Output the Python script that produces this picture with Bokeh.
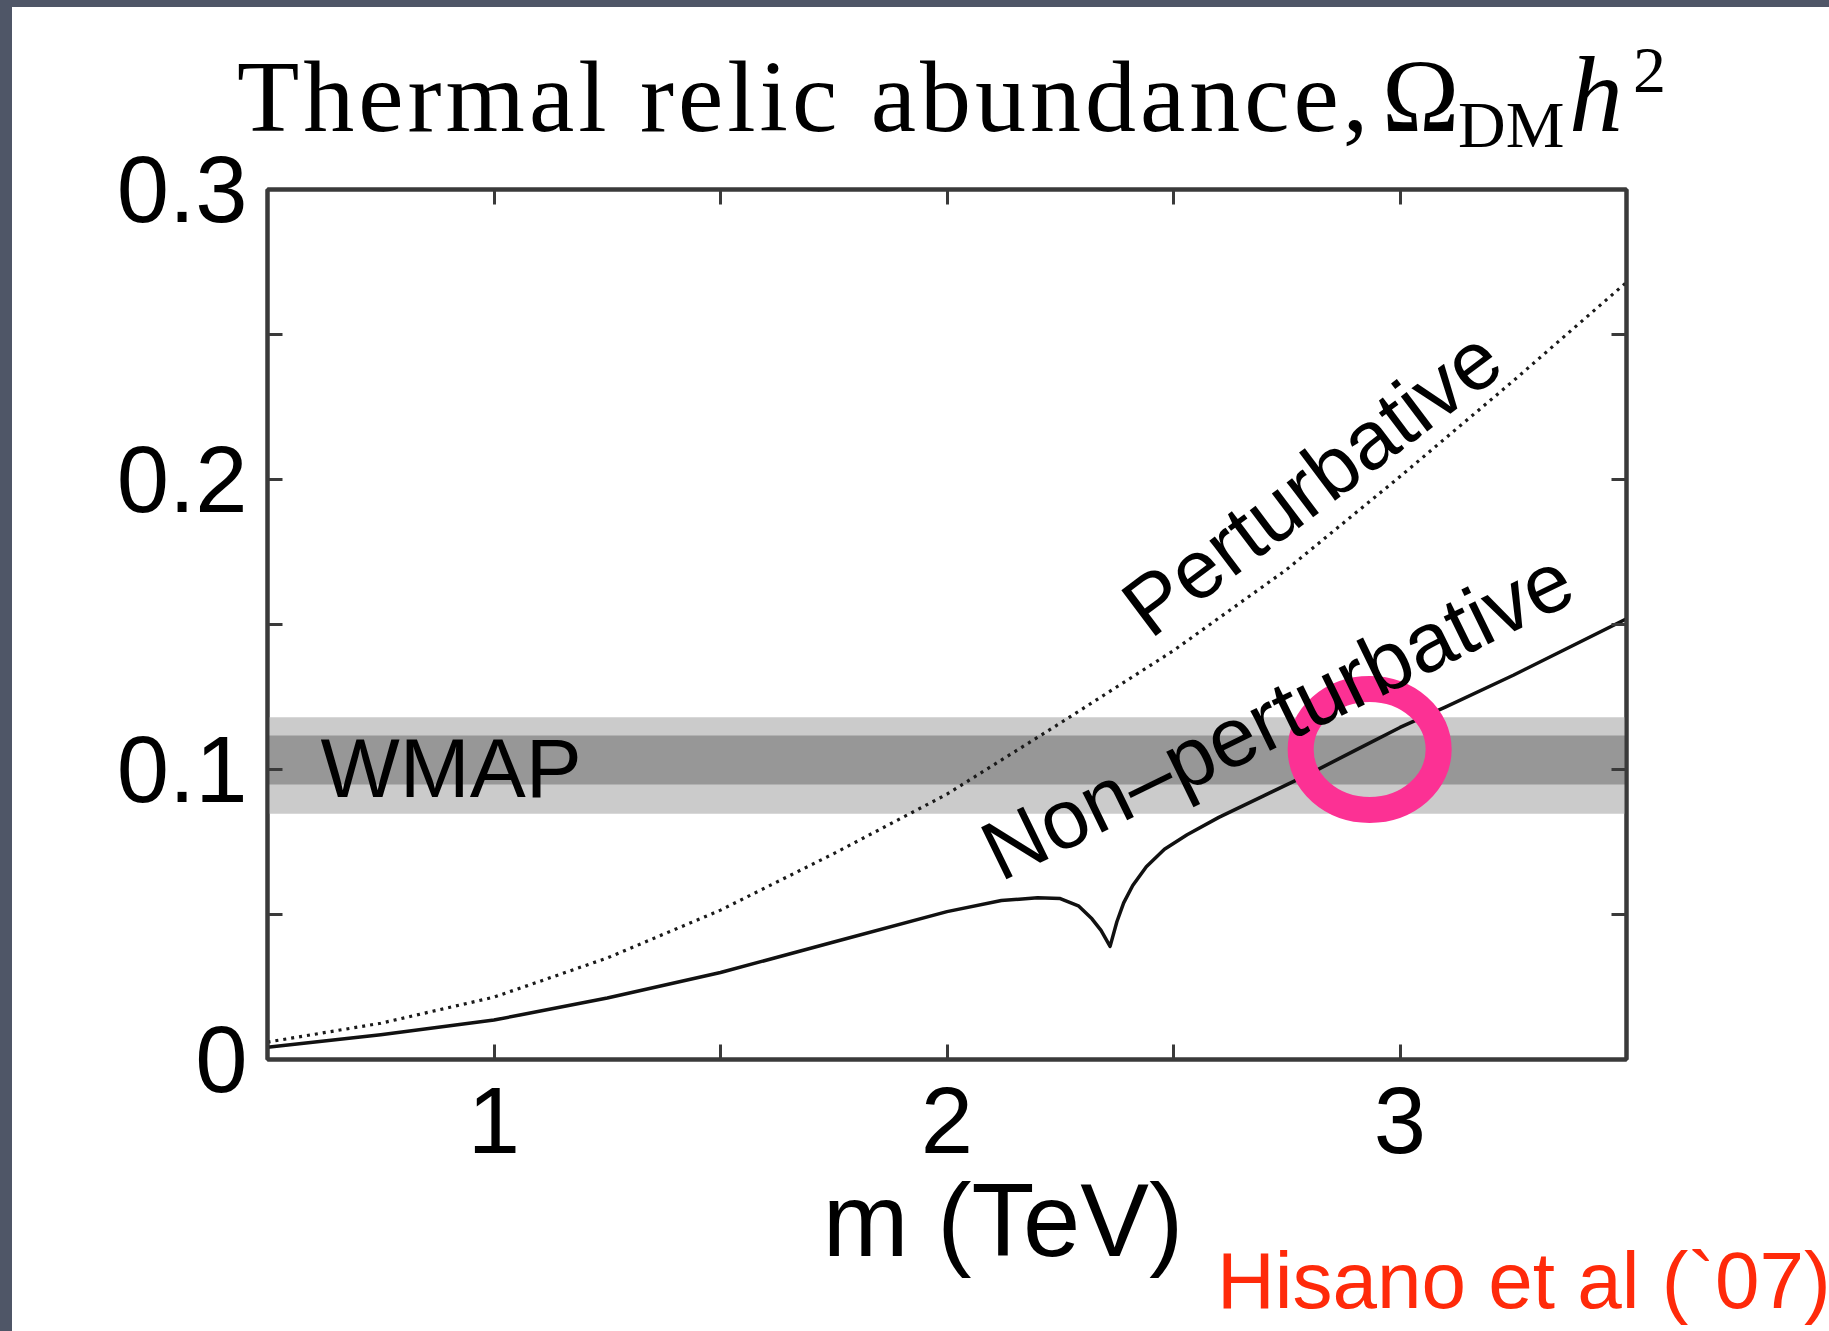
import math
from bokeh.plotting import figure
from bokeh.models import Range1d, FixedTicker, LinearAxis, Label, Div, Spacer
from bokeh.layouts import column, row
from bokeh.embed import file_html
from bokeh.resources import INLINE

# ---------------- data ----------------
mass_perturbative = [0.5, 0.75, 1.0, 1.25, 1.5, 1.75, 2.0, 2.25, 2.5, 2.75, 3.0, 3.25, 3.5]
omega_perturbative = [0.0060, 0.0125, 0.0215, 0.0350, 0.0515, 0.0710, 0.0915, 0.1160,
                      0.1410, 0.1690, 0.2010, 0.2340, 0.2680]

mass_nonpert = [0.5, 0.75, 1.0, 1.25, 1.5, 1.75, 2.0, 2.12, 2.2, 2.25, 2.29, 2.32, 2.34,
                2.36, 2.375, 2.39, 2.41, 2.44, 2.48, 2.53, 2.6, 2.7, 2.8, 2.9, 3.0, 3.1,
                3.25, 3.5]
omega_nonpert = [0.0042, 0.0085, 0.0136, 0.0212, 0.0300, 0.0405, 0.0510, 0.0548, 0.0558,
                 0.0555, 0.0530, 0.0485, 0.0445, 0.0390, 0.0475, 0.0540, 0.0600, 0.0665,
                 0.0725, 0.0775, 0.0835, 0.0910, 0.0985, 0.1065, 0.1145, 0.1215, 0.1325,
                 0.1520]

wmap_inner = [0.0948, 0.1117]   # dark band (bottom, top)
wmap_outer = [0.0847, 0.1180]   # light band (bottom, top)

x_range_lim = [0.5, 3.5]
y_range_lim = [0.0, 0.3]
x_ticks = [1, 2, 3]
x_tick_labels = ["1", "2", "3"]
x_minor_ticks = [1.5, 2.5]
y_ticks = [0, 0.1, 0.2, 0.3]
y_tick_labels = ["0", "0.1", "0.2", "0.3"]
y_minor_ticks = [0.05, 0.15, 0.25]

highlight_point = [2.933, 0.1069]   # the pink circle

title_main = "Thermal relic abundance,"
title_symbol = "\u03a9"
title_sub = "DM"
title_h = "h"
title_sup = "2"
x_label = "m (TeV)"
credit = "Hisano et al (`07)"
band_label = "WMAP"
label_pert = "Perturbative"
label_nonpert = "Non\u2013perturbative"

# ---------------- layout geometry (page pixels) ----------------
PAGE_W, PAGE_H = 1829, 1331
PAD_LEFT, PAD_TOP = 12, 7
FRAME_L, FRAME_R, FRAME_T, FRAME_B = 267, 1626, 189, 1059
MAIN_TOP, MAIN_BOTTOM = 135, 1186
FIG_W = PAGE_W - PAD_LEFT

SANS = "Liberation Sans"
SERIF = "Liberation Serif"
FRAME_COLOR = "#3a3a3a"
DARK = "#4f5667"
BASE_SHIFT = 0.35   # renderer draws 'alphabetic' label text this many em low
# baseline position inside a line-height:1 box, per font
BOX_BASELINE = {SERIF: 0.8375, SANS: 0.8465}
NO_MARGIN = (0, 0, 0, 0)


def fx(px):
    return x_range_lim[0] + (px - FRAME_L) / (FRAME_R - FRAME_L) * (x_range_lim[1] - x_range_lim[0])


def fy(py):
    return y_range_lim[0] + (FRAME_B - py) / (FRAME_B - FRAME_T) * (y_range_lim[1] - y_range_lim[0])


def span(text, x, baseline, font, size, origin_y, color="black", style="normal",
         center=False, spacing=0):
    top = baseline - BOX_BASELINE[font] * size - origin_y
    left = x - PAD_LEFT
    shift = "transform:translateX(-50%);" if center else ""
    return (f'<span style="position:absolute;left:{left:.1f}px;top:{top:.1f}px;{shift}'
            f"font-family:'{font}';font-size:{size}px;line-height:1;font-style:{style};"
            f'letter-spacing:{spacing}px;white-space:nowrap;color:{color};">{text}</span>')


def strip(spans, y0, y1):
    h = y1 - y0
    html = (f'<div style="position:relative;width:{FIG_W}px;height:{h}px;overflow:visible;'
            f'margin:0;padding:0;">' + "".join(spans) + "</div>")
    return Div(text=html, width=FIG_W, height=h, margin=NO_MARGIN,
               styles={"overflow": "visible", "position": "relative", "z-index": "5"})


# ---------------- title strip ----------------
top = strip([
    span(title_main, 237, 131, SERIF, 102, PAD_TOP, spacing=4),
    span(title_symbol, 1382, 131, SERIF, 104, PAD_TOP),
    span(title_sub, 1458, 147, SERIF, 66, PAD_TOP),
    span(title_h, 1569, 131, SERIF, 108, PAD_TOP, style="italic"),
    span(title_sup, 1633, 92, SERIF, 66, PAD_TOP),
], PAD_TOP, MAIN_TOP)

# ---------------- main plot ----------------
p = figure(width=FIG_W, height=MAIN_BOTTOM - MAIN_TOP, output_backend="svg",
           toolbar_location=None, x_range=Range1d(*x_range_lim), y_range=Range1d(*y_range_lim),
           x_axis_location=None, y_axis_location=None)
p.margin = NO_MARGIN
p.min_border_left = FRAME_L - PAD_LEFT
p.min_border_right = PAGE_W - FRAME_R
p.min_border_top = FRAME_T - MAIN_TOP
p.min_border_bottom = MAIN_BOTTOM - FRAME_B
p.background_fill_color = "white"
p.border_fill_color = None
p.outline_line_color = FRAME_COLOR
p.outline_line_width = 4
p.xgrid.visible = False
p.ygrid.visible = False
p.title.visible = False


def style_axis(ax, labels):
    ax.axis_line_color = FRAME_COLOR
    ax.axis_line_width = 4
    ax.major_tick_in = 15
    ax.major_tick_out = 0
    ax.minor_tick_in = 15
    ax.minor_tick_out = 0
    ax.major_tick_line_color = FRAME_COLOR
    ax.minor_tick_line_color = FRAME_COLOR
    ax.major_tick_line_width = 3
    ax.minor_tick_line_width = 3
    ax.major_label_text_font = SANS
    ax.major_label_text_font_size = "94px"
    ax.major_label_text_color = "black"
    ax.major_label_overrides = labels


xt = FixedTicker(ticks=x_ticks, minor_ticks=x_minor_ticks)
yt = FixedTicker(ticks=y_ticks, minor_ticks=y_minor_ticks)

xb = LinearAxis(ticker=xt)
style_axis(xb, {t: s for t, s in zip(x_ticks, x_tick_labels)})
xb.major_label_standoff = 28
p.add_layout(xb, "below")

yl = LinearAxis(ticker=yt)
style_axis(yl, {t: s for t, s in zip(y_ticks, y_tick_labels)})
yl.major_label_standoff = 20
p.add_layout(yl, "left")

xa = LinearAxis(ticker=xt)
style_axis(xa, {t: "" for t in x_ticks})
xa.major_label_text_font_size = "0px"
p.add_layout(xa, "above")

yr = LinearAxis(ticker=yt)
style_axis(yr, {t: "" for t in y_ticks})
yr.major_label_text_font_size = "0px"
p.add_layout(yr, "right")

# WMAP bands
p.quad(left=[x_range_lim[0]], right=[x_range_lim[1]], bottom=[wmap_outer[0]], top=[wmap_outer[1]],
       fill_color="#cbcbcb", line_color=None)
p.quad(left=[x_range_lim[0]], right=[x_range_lim[1]], bottom=[wmap_inner[0]], top=[wmap_inner[1]],
       fill_color="#979797", line_color=None)

# curves
p.line(mass_perturbative, omega_perturbative, line_color="#1a1a1a", line_width=3.2,
       line_dash="3 5")
p.line(mass_nonpert, omega_nonpert, line_color="#111111", line_width=3.5, line_join="round")


def plot_label(bx, by, text, size, angle_deg=0.0):
    t = math.radians(angle_deg)
    s = BASE_SHIFT * size
    ax, ay = bx - s * math.sin(t), by - s * math.cos(t)
    p.add_layout(Label(x=fx(ax), y=fy(ay), text=text, text_font=SANS, text_font_size=f"{size}px",
                       text_color="black", angle=t, text_align="left",
                       text_baseline="alphabetic"))


plot_label(320, 797, band_label, 84)
plot_label(1150, 640, label_pert, 83, 37.0)
plot_label(1000, 882, label_nonpert, 84, 26.0)

# pink highlight ring
p.ellipse(x=[highlight_point[0]], y=[highlight_point[1]], width=138 / 453, height=121 / 2900,
          fill_color=None, line_color="#fc3194", line_width=26)

# ---------------- bottom strip ----------------
bot = strip([
    span(x_label, 1003, 1256, SANS, 103, MAIN_BOTTOM, center=True),
    span(credit, 1217, 1309, SANS, 80, MAIN_BOTTOM, color="#ff2a0a"),
], MAIN_BOTTOM, PAGE_H)

# ---------------- page assembly (dark slide edge on top and left) ----------------
left_edge = Spacer(width=PAD_LEFT, height=PAGE_H, margin=NO_MARGIN,
                   styles={"background-color": DARK})
top_edge = Spacer(width=FIG_W, height=PAD_TOP, margin=NO_MARGIN,
                  styles={"background-color": DARK})
body = column(top_edge, top, p, bot, spacing=0, margin=NO_MARGIN,
              styles={"background-color": "white"})
page = row(left_edge, body, spacing=0, margin=NO_MARGIN, styles={"background-color": "white"})

open("out.html", "w").write(file_html(page, INLINE))
